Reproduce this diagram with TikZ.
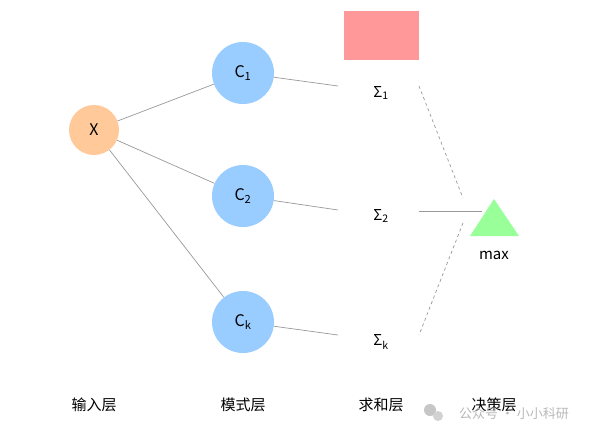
\documentclass[tikz,border=0pt]{standalone}
\usepackage{fontspec}
\setmainfont{Noto Sans CJK SC}
\definecolor{cx}{RGB}{255,201,153}
\definecolor{cc}{RGB}{153,204,255}
\definecolor{cr}{RGB}{255,153,153}
\definecolor{cg}{RGB}{153,255,153}
\begin{document}
\begin{tikzpicture}[x=1pt,y=-1pt,
  conn/.style={draw=gray!80,line width=0.7pt},
  dconn/.style={conn,dashed},
  lab/.style={font=\fontsize{15}{17}\selectfont},
  sig/.style={font=\fontsize{15}{17}\selectfont,inner sep=1pt}]
\useasboundingbox (0,0) rectangle (602,440);
\fill[white] (0,0) rectangle (602,440);
\node[circle,fill=cx,minimum size=50pt,inner sep=0,font=\fontsize{16}{18}\selectfont] (x) at (94,130) {X};
\foreach \n/\y/\t in {c1/73/C\textsubscript{1},c2/196/C\textsubscript{2},ck/322/C\textsubscript{k}}
  \node[circle,fill=cc,minimum size=62pt,inner sep=0,font=\fontsize{16}{18}\selectfont] (\n) at (243,\y) {\t};
\fill[cr] (344,11) rectangle (419,60);
\node[sig] (s1) at (381,93) {Σ\textsubscript{1}};
\node[sig] (s2) at (381,216) {Σ\textsubscript{2}};
\node[sig] (sk) at (381,342) {Σ\textsubscript{k}};
\coordinate (a1) at (338,86); \coordinate (a2) at (338,210); \coordinate (ak) at (338,335);
\coordinate (b1) at (419,86); \coordinate (b2) at (419,211); \coordinate (bk) at (419,335);
\coordinate (m1) at (463,198); \coordinate (m2) at (482,211); \coordinate (mk) at (463,223);
\draw[conn] (x) -- (c1); \draw[conn] (x) -- (c2); \draw[conn] (x) -- (ck);
\draw[conn] (c1) -- (a1); \draw[conn] (c2) -- (a2); \draw[conn] (ck) -- (ak);
\draw[dconn] (b1) -- (m1); \draw[conn] (b2) -- (m2); \draw[dconn] (mk) -- (bk);
\fill[cg] (494,199) -- (519,236) -- (470,236) -- cycle;
\node[lab] (mx) at (494,255) {max};
\node[lab] (l1) at (94,405) {输入层};
\node[lab] (l2) at (243,405) {模式层};
\node[lab] (l3) at (381,405) {求和层};
\node[lab] (l4) at (494,405) {决策层};
\fill[gray!45] (430,410) circle (6pt); \fill[gray!35] (438,416) circle (5pt);
\node[font=\fontsize{13}{15}\selectfont,text=gray!55] (wm) at (514,414) {公众号 · 小小科研};
\end{tikzpicture}
\end{document}
